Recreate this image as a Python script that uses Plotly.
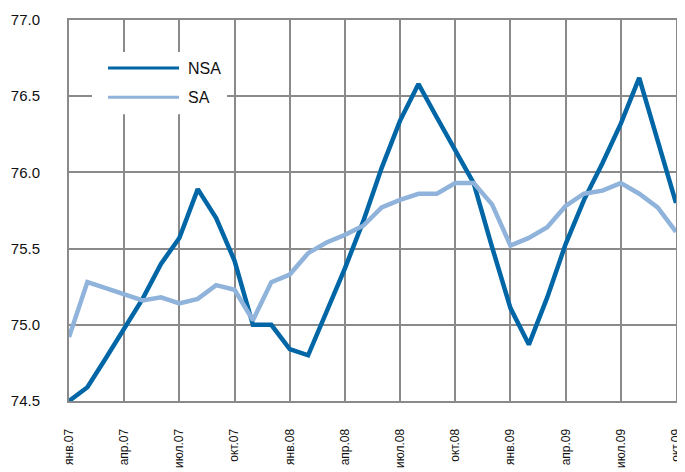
import plotly.graph_objects as go

months = ["янв", "фев", "мар", "апр", "май", "июн", "июл", "авг", "сен", "окт", "ноя", "дек"]
categories = [f"{m}.{y}" for y in ["07", "08", "09"] for m in months][:34]

nsa = [74.50, 74.59, 74.78, 74.98, 75.17, 75.40, 75.57, 75.89, 75.70, 75.42, 75.00, 75.00,
       74.84, 74.80, 75.08, 75.37, 75.68, 76.03, 76.34, 76.58, 76.36, 76.15, 75.93, 75.51,
       75.11, 74.87, 75.18, 75.53, 75.82, 76.06, 76.32, 76.62, 76.21, 75.80]
sa = [74.92, 75.28, 75.24, 75.20, 75.16, 75.18, 75.14, 75.17, 75.26, 75.23, 75.03, 75.28,
      75.33, 75.47, 75.54, 75.59, 75.65, 75.77, 75.82, 75.86, 75.86, 75.93, 75.93, 75.79,
      75.52, 75.57, 75.64, 75.78, 75.86, 75.88, 75.93, 75.86, 75.77, 75.61]
tick_labels = [c for i, c in enumerate(categories) if i % 3 == 0]
y_ticks = [74.5, 75.0, 75.5, 76.0, 76.5, 77.0]
series_names = ["NSA", "SA"]
series_colors = ["#0066a6", "#8fb3da"]

font = "Liberation Sans, Arial, sans-serif"
grid = "#8a8a8a"

fig = go.Figure()
for name, vals, col in zip(series_names, [nsa, sa], series_colors):
    fig.add_trace(go.Scatter(x=categories, y=vals, mode="lines", name=name,
                             line=dict(color=col, width=4.5), showlegend=False))

# custom legend (white box over the grid, long line samples)
shapes = [dict(type="rect", xref="paper", yref="paper", x0=0.0379, x1=0.2603,
               y0=0.7526, y1=0.9158, fillcolor="white", line=dict(width=0), layer="above")]
annotations = []
for i, (name, col) in enumerate(zip(series_names, series_colors)):
    yy = 0.8737 - i * 0.0763
    shapes.append(dict(type="line", xref="paper", yref="paper", x0=0.0643, x1=0.1813,
                       y0=yy, y1=yy, line=dict(color=col, width=3), layer="above"))
    annotations.append(dict(xref="paper", yref="paper", x=0.1928, y=yy, text=name,
                            showarrow=False, xanchor="left", yanchor="middle",
                            font=dict(size=16, family=font, color="#111")))

# the page body has an 8px margin, so the figure is 8px smaller than the window
fig.update_layout(
    width=677, height=464,
    margin=dict(l=61, r=9, t=12, b=71),
    paper_bgcolor="white", plot_bgcolor="white",
    font=dict(family=font, color="#111", size=15),
    showlegend=False,
    shapes=shapes, annotations=annotations,
    xaxis=dict(type="category", range=[0, 33], tickmode="array", tickvals=tick_labels,
               ticktext=tick_labels, tickangle=-90, showgrid=True, gridcolor=grid,
               gridwidth=2, showline=True, linecolor=grid, linewidth=2, mirror=True,
               ticks="", tickfont=dict(size=12, family=font), ticklabelstandoff=21,
               automargin=False),
    yaxis=dict(range=[74.5, 77.0], tickvals=y_ticks, tickformat=".1f", showgrid=True,
               gridcolor=grid, gridwidth=2, showline=True, linecolor=grid,
               linewidth=2, mirror=True, ticks="", zeroline=False,
               tickfont=dict(size=15, family=font), ticklabelstandoff=24,
               automargin=False),
)

fig.write_html("out.html")
